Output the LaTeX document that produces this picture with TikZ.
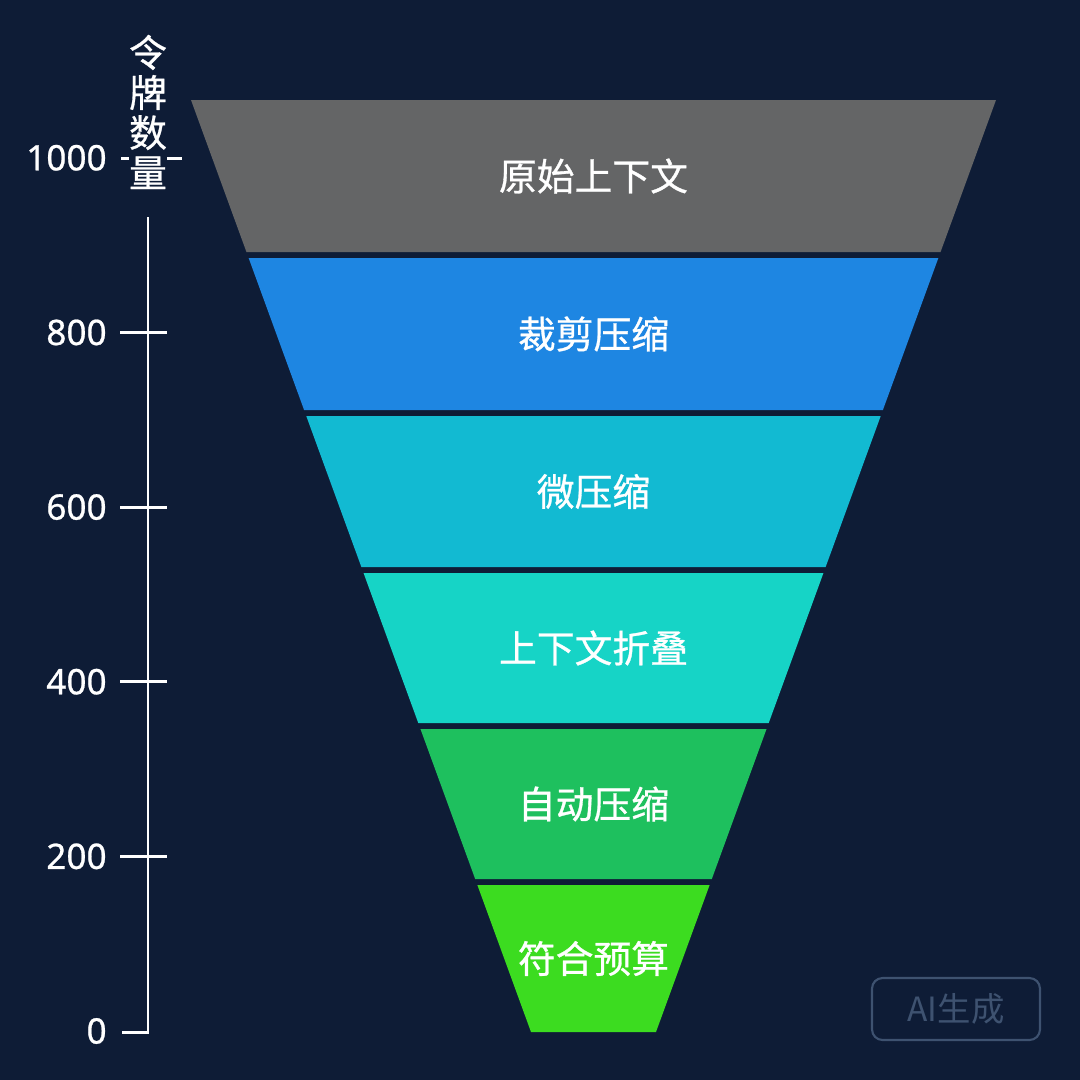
\documentclass[tikz,border=0pt]{standalone}
\usepackage{fontspec}
\setmainfont[UprightFeatures={FakeBold=0.7}]{Noto Sans}
\newfontfamily\cjk[UprightFeatures={FakeBold=0.8}]{Noto Sans CJK SC}
\newfontfamily\cjklight{Noto Sans CJK SC}
\definecolor{bgnavy}{RGB}{14,28,54}
\definecolor{bandgray}{RGB}{100,101,102}
\definecolor{bandblue}{RGB}{30,134,226}
\definecolor{bandcyan}{RGB}{18,186,210}
\definecolor{bandteal}{RGB}{22,212,198}
\definecolor{bandgreen}{RGB}{30,192,94}
\definecolor{bandlime}{RGB}{60,220,32}
\definecolor{wmark}{RGB}{62,82,112}

\begin{document}
\begin{tikzpicture}[x=0.02cm,y=-0.02cm,
  bandtext/.style={text=white,inner sep=0pt,font=\cjk\fontsize{21.5}{24}\selectfont},
  ticktext/.style={text=white,anchor=east,inner sep=0pt,font=\fontsize{20}{22}\selectfont},
  axisline/.style={white,line width=1.7pt}]
 \fill[bgnavy] (0,0) rectangle (1080,1080);
 \useasboundingbox (0,0) rectangle (1080,1080);
 % funnel bands, edges run from (191,100)/(996,100) down to (531,1032)/(656,1032)
 \foreach \ya/\yb/\col/\txt [count=\i] in {100/252/bandgray/原始上下文,258/410/bandblue/裁剪压缩,416/567/bandcyan/微压缩,573/723/bandteal/上下文折叠,729/879/bandgreen/自动压缩,885/1032/bandlime/符合预算} {
   \pgfmathsetmacro{\lt}{191+0.3648*(\ya-100)}
   \pgfmathsetmacro{\rt}{996-0.3648*(\ya-100)}
   \pgfmathsetmacro{\lb}{191+0.3648*(\yb-100)}
   \pgfmathsetmacro{\rb}{996-0.3648*(\yb-100)}
   \fill[\col] (\lt,\ya) -- (\rt,\ya) -- (\rb,\yb) -- (\lb,\yb) -- cycle;
   \node[bandtext] (band\i) at (593.5,{(\ya+\yb)/2}) {\txt};
 }
 % token axis
 \draw[axisline] (148,217) -- (148,1032) -- (122,1032);
 \foreach \v in {200,400,600,800} { \draw[axisline] (120,{1031-0.8732*\v}) -- (167,{1031-0.8732*\v}); }
 \draw[axisline] (121,158) -- (182,158);
 \foreach \v in {0,200,400,600,800,1000} { \node[ticktext] (tick\v) at (107,{1031-0.8732*\v}) {\v}; }
 \node[fill=bgnavy,inner sep=0pt,text=white,align=center,font=\cjk\fontsize{21.5}{22.8}\selectfont] (axistitle) at (148,112) {令\\牌\\数\\量};
 % watermark
 \node[draw=wmark,line width=1.2pt,rounded corners=6pt,minimum width=3.36cm,minimum height=1.24cm,text=wmark,font=\cjklight\fontsize{19}{22}\selectfont] (aimark) at (956,1009) {AI生成};
\end{tikzpicture}
\end{document}
